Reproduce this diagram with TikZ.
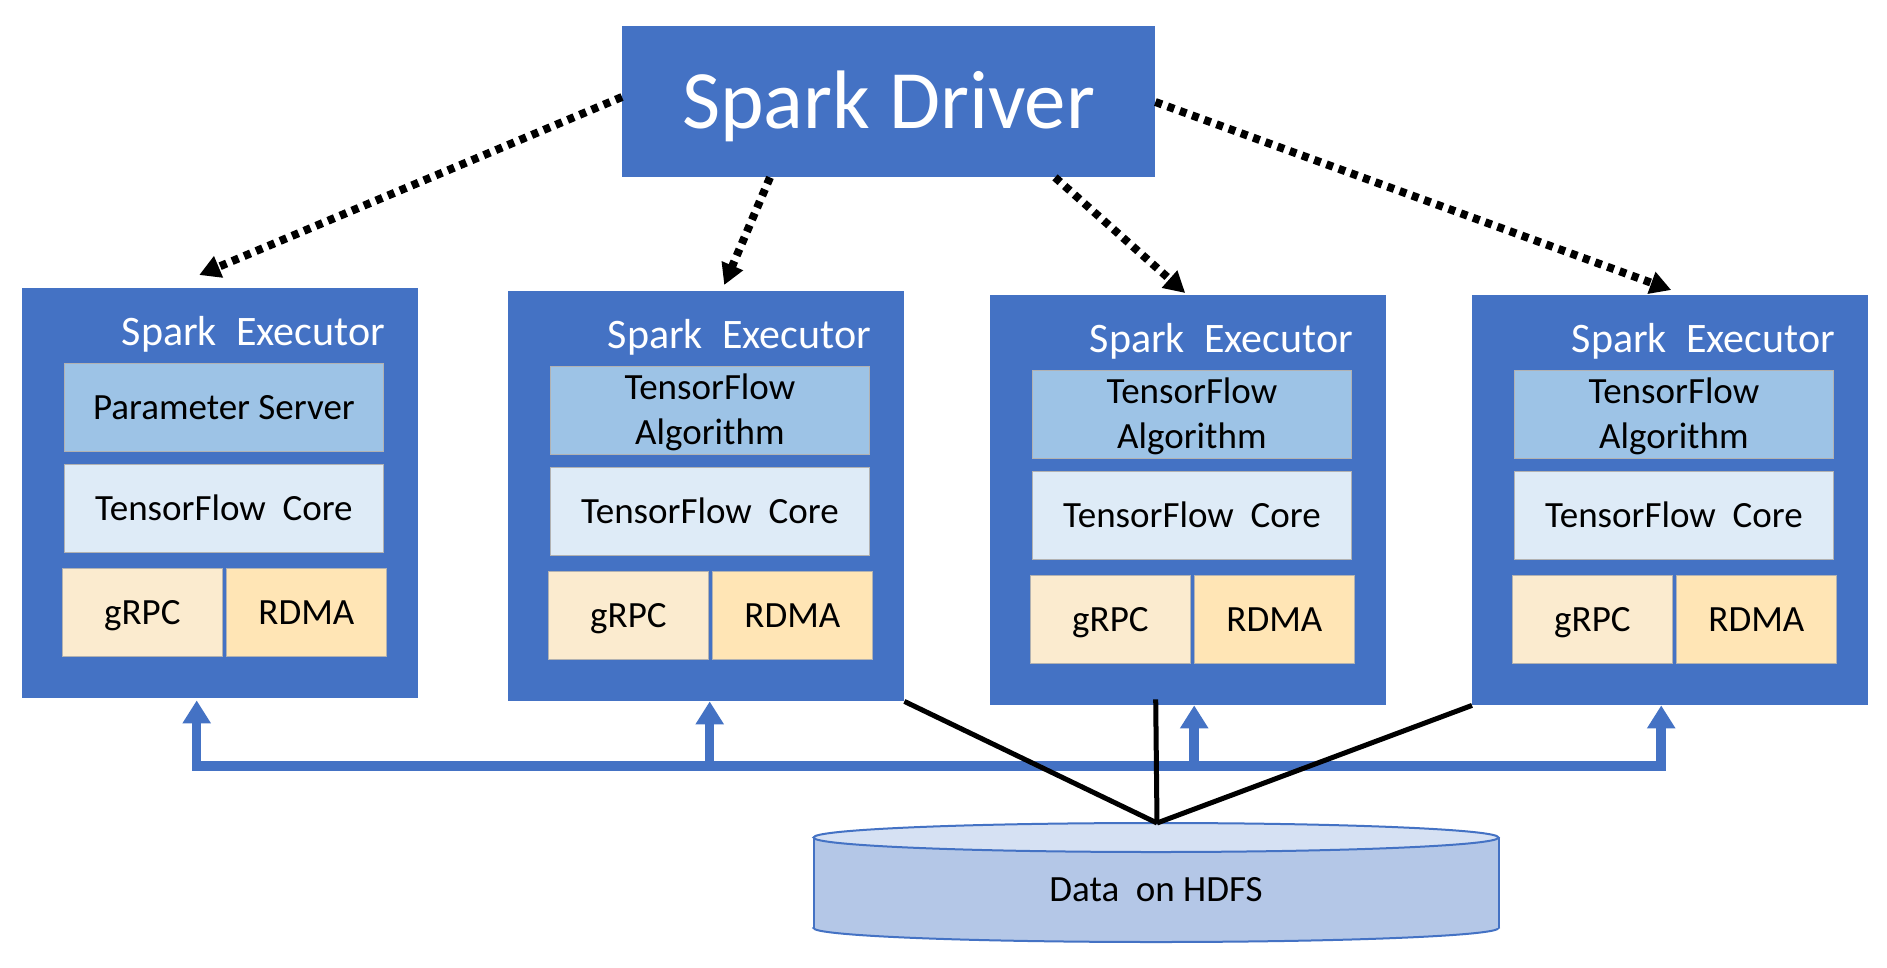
\documentclass[tikz,border=0pt]{standalone}
\usepackage{fontspec}
\setmainfont{Carlito}
\usetikzlibrary{arrows.meta,calc}
\definecolor{sblue}{HTML}{4472C4}
\definecolor{topbox}{HTML}{9DC3E6}
\definecolor{corebox}{HTML}{DEEBF7}
\definecolor{grpcbox}{HTML}{FBEBCF}
\definecolor{rdmabox}{HTML}{FFE5B5}
\definecolor{cylbody}{HTML}{B4C7E7}
\definecolor{cyltop}{HTML}{D6E1F3}
\tikzset{
  execbox/.style={fill=sblue, draw=none, minimum width=396pt, minimum height=410pt, anchor=north west, inner sep=0pt},
  exectitle/.style={text=white, inner sep=0pt, font=\fontsize{42}{48}\selectfont, anchor=base east},
  layer/.style={draw=gray!60, line width=0.8pt, inner sep=0pt, anchor=north west, font=\fontsize{37}{45}\selectfont, text height=23.8pt, text depth=0pt, align=center, text=black},
  widelayer/.style={layer, minimum width=319pt, minimum height=88pt},
  narrowlayer/.style={layer, minimum width=160pt, minimum height=88pt},
  twoline/.style={text height=68.8pt},
  ctrl/.style={draw=black, line width=8pt, dash pattern=on 7pt off 6pt, -{Triangle[length=21pt,width=22pt]}},
  busline/.style={draw=sblue, line width=9.5pt},
  bustip/.style={-{Triangle[length=23pt,width=27pt]}},
  dataline/.style={draw=black, line width=5pt},
}
\newcommand\ExecNode[5]{%
  \node[execbox] (#1) at (#2,#3) {};
  \node[exectitle] (#1t) at ($(#1.north west)+(363,57)$) {Spark\ \ Executor};
  \node[widelayer, fill=topbox, #5] (#1a) at ($(#1.north west)+(42,75)$) {#4};
  \node[widelayer, fill=corebox] (#1c) at ($(#1.north west)+(42,176)$) {TensorFlow\ \ Core};
  \node[narrowlayer, fill=grpcbox] (#1g) at ($(#1.north west)+(40,280)$) {gRPC};
  \node[narrowlayer, fill=rdmabox] (#1r) at ($(#1.north west)+(204,280)$) {RDMA};
}
\begin{document}
\begin{tikzpicture}[x=1pt,y=-1pt]
\fill[white] (0,0) rectangle (1887,967);
\useasboundingbox (0,0) rectangle (1887,967);

% driver
\node[fill=sblue, minimum width=533pt, minimum height=151pt, anchor=north west, inner sep=0pt,
      text=white, font=\fontsize{83}{90}\selectfont, text height=53.5pt, text depth=0pt] (drv) at (622,26) {Spark Driver};

% executors
\ExecNode{e1}{22}{288}{Parameter Server}{}
\ExecNode{e2}{508}{291}{TensorFlow\\Algorithm}{twoline}
\ExecNode{e3}{990}{295}{TensorFlow\\Algorithm}{twoline}
\ExecNode{e4}{1472}{295}{TensorFlow\\Algorithm}{twoline}

% driver -> executors
\draw[ctrl] ($(drv.north west)+(0,71)$) -- ($(e1.north)+(-21,-13)$);
\draw[ctrl] ($(drv.south west)+(148,0)$) -- ($(e2.north)+(18,-6)$);
\draw[ctrl] ($(drv.south west)+(433,0)$) -- ($(e3.north)+(-3,-2)$);
\draw[ctrl] ($(drv.north east)+(0,76)$) -- ($(e4.north)+(1,-5)$);

% bus
\coordinate (b1) at ($(e1.south)+(-23.5,2)$);
\coordinate (b2) at ($(e2.south)+(3.5,0)$);
\coordinate (b3) at ($(e3.south)+(6,0)$);
\coordinate (b4) at ($(e4.south)+(-9,0)$);
\coordinate (busl) at (0,766);
\draw[busline, {Triangle[length=23pt,width=27pt]}-{Triangle[length=23pt,width=27pt]}]
  (b1) -- (b1 |- busl) -- (b4 |- busl) -- (b4);
\draw[busline, bustip] (b2 |- busl) -- (b2);
\draw[busline, bustip] (b3 |- busl) -- (b3);

% cylinder
\fill[cylbody, draw=sblue, line width=2pt] (1156,928) ellipse [x radius=342.5pt, y radius=14pt];
\fill[cylbody] (813.5,837.5) rectangle (1498.5,928);
\draw[sblue, line width=2pt] (813.5,837.5) -- (813.5,928);
\draw[sblue, line width=2pt] (1498.5,837.5) -- (1498.5,928);
\filldraw[fill=cyltop, draw=sblue, line width=2pt] (1156,837.5) ellipse [x radius=342.5pt, y radius=14.5pt];
\coordinate (apex) at (1157,823);
\node[font=\fontsize{37}{45}\selectfont, text height=23.8pt, text depth=0pt, inner sep=0pt] (hdfs) at (1156,890) {Data\ \ on HDFS};

% data lines
\draw[dataline] (e2.south east) -- (apex);
\draw[dataline] ($(e3.south)+(-32.5,-6)$) -- (apex);
\draw[dataline] (e4.south west) -- (apex);
\end{tikzpicture}
\end{document}
